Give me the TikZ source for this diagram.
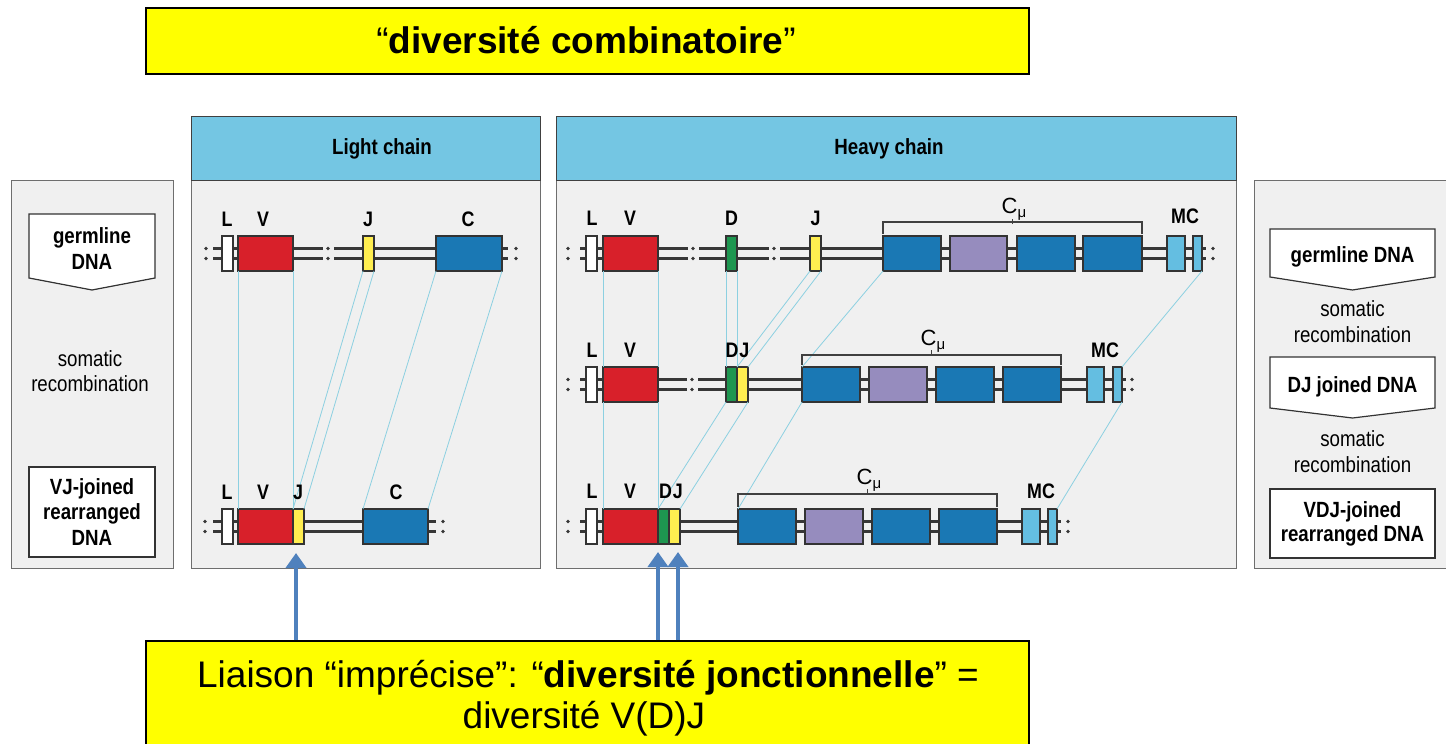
\documentclass[tikz,border=0pt]{standalone}
\usepackage{fontspec}
\setmainfont{Liberation Sans}
\usepackage{graphicx}
\usetikzlibrary{arrows.meta}
\definecolor{hdr}{RGB}{116,198,227}
\definecolor{panel}{RGB}{240,240,240}
\definecolor{pborder}{RGB}{110,110,110}
\definecolor{gred}{RGB}{216,32,42}
\definecolor{ggreen}{RGB}{30,150,80}
\definecolor{gyellow}{RGB}{255,238,80}
\definecolor{gblue}{RGB}{26,120,180}
\definecolor{gpurple}{RGB}{150,140,190}
\definecolor{gmc}{RGB}{100,190,225}
\definecolor{guide}{RGB}{140,208,225}
\definecolor{strandc}{RGB}{55,55,55}
\definecolor{arrblue}{RGB}{79,129,189}
\definecolor{ylw}{RGB}{255,255,0}
\newcommand{\cnd}[1]{\scalebox{0.85}[1]{#1}}
\tikzset{
 ybox/.style={draw=black, line width=1.5pt, fill=ylw, inner sep=0pt},
 hdrbox/.style={draw=black!75, line width=1.2pt, fill=hdr, inner sep=0pt},
 pnl/.style={draw=pborder, line width=1.2pt, fill=panel, inner sep=0pt},
 gene/.style={draw=black!80, line width=1.1pt, inner sep=0pt, outer sep=0pt},
 strand/.style={draw=strandc, line width=2.2pt},
 guideln/.style={draw=guide, line width=0.8pt},
 brack/.style={draw=black!75, line width=1.2pt},
 lbl/.style={font=\fontsize{21}{23}\selectfont\bfseries, inner sep=0pt, anchor=base},
 cmu/.style={font=\fontsize{22}{24}\selectfont, inner sep=0pt, anchor=base},
 ptxt/.style={font=\fontsize{22}{24}\selectfont, inner sep=0pt, anchor=base},
 bptxt/.style={font=\fontsize{22}{24}\selectfont\bfseries, inner sep=0pt, anchor=base},
 bigtxt/.style={font=\fontsize{37}{44}\selectfont, inner sep=0pt, anchor=base},
 arr/.style={draw=arrblue, line width=4pt, -{Triangle[width=20pt,length=15pt]}},
 wbox/.style={draw=black!80, line width=1.2pt, fill=white},
}
\newcommand{\gene}[6]{\node[gene, fill=#2, minimum width={#4-#3}, minimum height={#6-#5}, anchor=north west] (#1) at (#3,#5) {};}
\newcommand{\strands}[4]{%
 \coordinate (#1s) at (#2,#4); \coordinate (#1e) at (#3,#4);
 \draw[strand] ([yshift=5pt]#1s) -- ([yshift=5pt]#1e);
 \draw[strand] ([yshift=-5pt]#1s) -- ([yshift=-5pt]#1e);}
\newcommand{\brk}[2]{%
 \fill[panel] ({#1-5.5},{#2-9}) rectangle ({#1+5.5},{#2+9});
 \fill[strandc] (#1,{#2-5}) circle (1.9); \fill[strandc] (#1,{#2+5}) circle (1.9);}
\newcommand{\edots}[2]{%
 \fill[strandc] (#1,{#2-5}) circle (1.9); \fill[strandc] (#1,{#2+5}) circle (1.9);}
\newcommand{\cm}{C\raisebox{-4pt}{\fontsize{15}{15}\selectfont μ}}
\begin{document}
\begin{tikzpicture}[x=1pt,y=-1pt]
\useasboundingbox (0,0) rectangle (1446,744);
\fill[white] (0,0) rectangle (1446,744);

% top banner
\node[ybox, minimum width=883, minimum height=66, anchor=north west] (topbox) at (145,7) {};
\node[bigtxt] (toptxt) at (586,53) {“\textbf{diversité combinatoire}”};

% panels
\node[pnl, minimum width=162, minimum height=388, anchor=north west] (lpanel) at (11,180) {};
\node[pnl, minimum width=349, minimum height=388, anchor=north west] (lbody) at (191,180) {};
\node[hdrbox, minimum width=349, minimum height=64, anchor=north west] (lhdr) at (191,116) {};
\node[pnl, minimum width=680, minimum height=388, anchor=north west] (hbody) at (556,180) {};
\node[hdrbox, minimum width=680, minimum height=64, anchor=north west] (hhdr) at (556,116) {};
\node[pnl, minimum width=200, minimum height=388, anchor=north west] (rpanel) at (1254,180) {};

\node[bptxt] (lhtxt) at (382,154) {\cnd{Light chain}};
\node[bptxt] (hhtxt) at (889,154) {\cnd{Heavy chain}};

% ---------- light chain ----------
\strands{lr1}{213}{508}{253.5}
\brk{328}{253.5}
\edots{206}{253.5}\edots{516}{253.5}
\strands{lr2}{213}{436}{526.5}
\edots{205}{526.5}\edots{443}{526.5}

\gene{lL1}{white}{222}{233}{236}{271}
\gene{lV1}{gred}{238}{293}{236}{271}
\gene{lJ1}{gyellow}{363}{374}{236}{271}
\gene{lC1}{gblue}{436}{502}{236}{271}
\gene{lL2}{white}{222}{233}{509}{544}
\gene{lV2}{gred}{238}{293}{509}{544}
\gene{lJ2}{gyellow}{293}{304}{509}{544}
\gene{lC2}{gblue}{363}{428}{509}{544}

\draw[guideln] (lV1.south west) -- (lV2.north west);
\draw[guideln] (lV1.south east) -- (lV2.north east);
\draw[guideln] (lJ1.south west) -- (lJ2.north west);
\draw[guideln] (lJ1.south east) -- (lJ2.north east);
\draw[guideln] (lC1.south west) -- (lC2.north west);
\draw[guideln] (lC1.south east) -- (lC2.north east);

\node[lbl] (tlL1) at (227,226) {\cnd{L}};
\node[lbl] (tlV1) at (263,226) {\cnd{V}};
\node[lbl] (tlJ1) at (368,226) {\cnd{J}};
\node[lbl] (tlC1) at (468,226) {\cnd{C}};
\node[lbl] (tlL2) at (227,499) {\cnd{L}};
\node[lbl] (tlV2) at (263,499) {\cnd{V}};
\node[lbl] (tlJ2) at (298,499) {\cnd{J}};
\node[lbl] (tlC2) at (396,499) {\cnd{C}};

% ---------- heavy chain ----------
\strands{hr1}{580}{1206}{253.5}
\brk{693}{253.5}\brk{774}{253.5}
\edots{568}{253.5}\edots{1213}{253.5}
\strands{hr2}{580}{1126}{384.5}
\brk{692}{384.5}
\edots{568}{384.5}\edots{1132}{384.5}
\strands{hr3}{580}{1061}{526.5}
\edots{568}{526.5}\edots{1068}{526.5}

\gene{hL1}{white}{586}{597}{236}{271}
\gene{hV1}{gred}{603}{658}{236}{271}
\gene{hD1}{ggreen}{726}{737}{236}{271}
\gene{hJ1}{gyellow}{810}{821}{236}{271}
\gene{hC1a}{gblue}{883}{941}{236}{271}
\gene{hC1b}{gpurple}{950}{1007}{236}{271}
\gene{hC1c}{gblue}{1017}{1075}{236}{271}
\gene{hC1d}{gblue}{1083}{1142}{236}{271}
\gene{hM1a}{gmc}{1167}{1185}{236}{271}
\gene{hM1b}{gmc}{1193}{1202}{236}{271}

\gene{hL2}{white}{586}{597}{367}{402}
\gene{hV2}{gred}{603}{658}{367}{402}
\gene{hD2}{ggreen}{726}{737}{367}{402}
\gene{hJ2}{gyellow}{737}{748}{367}{402}
\gene{hC2a}{gblue}{802}{860}{367}{402}
\gene{hC2b}{gpurple}{869}{927}{367}{402}
\gene{hC2c}{gblue}{936}{994}{367}{402}
\gene{hC2d}{gblue}{1003}{1061}{367}{402}
\gene{hM2a}{gmc}{1087}{1104}{367}{402}
\gene{hM2b}{gmc}{1113}{1122}{367}{402}

\gene{hL3}{white}{586}{597}{509}{544}
\gene{hV3}{gred}{603}{658}{509}{544}
\gene{hD3}{ggreen}{658}{669}{509}{544}
\gene{hJ3}{gyellow}{669}{680}{509}{544}
\gene{hC3a}{gblue}{738}{796}{509}{544}
\gene{hC3b}{gpurple}{805}{863}{509}{544}
\gene{hC3c}{gblue}{872}{930}{509}{544}
\gene{hC3d}{gblue}{939}{997}{509}{544}
\gene{hM3a}{gmc}{1022}{1040}{509}{544}
\gene{hM3b}{gmc}{1048}{1057}{509}{544}

\draw[guideln] (hV1.south west) -- (hV2.north west);
\draw[guideln] (hV1.south east) -- (hV2.north east);
\draw[guideln] (hD1.south west) -- (hD2.north west);
\draw[guideln] (hD1.south east) -- (hD2.north east);
\draw[guideln] (hJ1.south west) -- (hJ2.north west);
\draw[guideln] (hJ1.south east) -- (hJ2.north east);
\draw[guideln] (hC1a.south west) -- (hC2a.north west);
\draw[guideln] (hM1b.south east) -- (hM2b.north east);
\draw[guideln] (hV2.south west) -- (hV3.north west);
\draw[guideln] (hV2.south east) -- (hV3.north east);
\draw[guideln] (hD2.south west) -- (hD3.north west);
\draw[guideln] (hJ2.south east) -- (hJ3.north east);
\draw[guideln] (hC2a.south west) -- (hC3a.north west);
\draw[guideln] (hM2b.south east) -- (hM3b.north east);

% brackets
\draw[brack] ([yshift=2pt]hC1a.north west) -- ++(0,-12) -| ([yshift=2pt]hC1d.north east);
\draw[brack] (1012.5,224) -- (1012.5,219);
\draw[brack] ([yshift=2pt]hC2a.north west) -- ++(0,-10) -| ([yshift=2pt]hC2d.north east);
\draw[brack] (931.5,355) -- (931.5,350);
\draw[brack] ([yshift=2pt]hC3a.north west) -- ++(0,-13) -| ([yshift=2pt]hC3d.north east);
\draw[brack] (867.5,494) -- (867.5,489);

\node[cmu] (cm1) at (1014,213) {\cm};
\node[cmu] (cm2) at (933,345) {\cm};
\node[cmu] (cm3) at (869,484) {\cm};

\node[lbl] (thL1) at (592,225) {\cnd{L}};
\node[lbl] (thV1) at (630,225) {\cnd{V}};
\node[lbl] (thD1) at (731.5,225) {\cnd{D}};
\node[lbl] (thJ1) at (815.5,225) {\cnd{J}};
\node[lbl] (thM1) at (1185,223) {\cnd{MC}};
\node[lbl] (thL2) at (592,357) {\cnd{L}};
\node[lbl] (thV2) at (630,357) {\cnd{V}};
\node[lbl] (thDJ2) at (737.5,357) {\cnd{D\hspace{1pt}J}};
\node[lbl] (thM2) at (1105,357) {\cnd{MC}};
\node[lbl] (thL3) at (592,498) {\cnd{L}};
\node[lbl] (thV3) at (630,498) {\cnd{V}};
\node[lbl] (thDJ3) at (671,498) {\cnd{D\hspace{1pt}J}};
\node[lbl] (thM3) at (1041,498) {\cnd{MC}};

% ---------- left panel ----------
\draw[wbox] (29,214) -- (155,214) -- (155,278) -- (92,290) -- (29,278) -- cycle;
\node[bptxt] (lg1) at (92,243) {\cnd{germline}};
\node[bptxt] (lg2) at (92,269) {\cnd{DNA}};
\node[ptxt] (ls1) at (90,366) {\cnd{somatic}};
\node[ptxt] (ls2) at (90,391) {\cnd{recombination}};
\draw[wbox] (29,467) rectangle (155,557);
\node[bptxt] (lv1) at (92,494) {\cnd{VJ-joined}};
\node[bptxt] (lv2) at (92,519) {\cnd{rearranged}};
\node[bptxt] (lv3) at (92,545) {\cnd{DNA}};

% ---------- right panel ----------
\draw[wbox] (1270,229) -- (1435,229) -- (1435,277) -- (1352.5,290) -- (1270,277) -- cycle;
\node[bptxt] (rg) at (1352.5,262) {\cnd{germline DNA}};
\node[ptxt] (rs1) at (1352.5,316) {\cnd{somatic}};
\node[ptxt] (rs2) at (1352.5,342) {\cnd{recombination}};
\draw[wbox] (1270,357) -- (1435,357) -- (1435,408) -- (1352.5,418) -- (1270,408) -- cycle;
\node[bptxt] (rdj) at (1352.5,392) {\cnd{DJ joined DNA}};
\node[ptxt] (rs3) at (1352.5,446) {\cnd{somatic}};
\node[ptxt] (rs4) at (1352.5,472) {\cnd{recombination}};
\draw[wbox] (1270,489) rectangle (1435,558);
\node[bptxt] (rv1) at (1352.5,517) {\cnd{VDJ-joined}};
\node[bptxt] (rv2) at (1352.5,541) {\cnd{rearranged DNA}};

% ---------- bottom banner ----------
\node[ybox, minimum width=883, minimum height=120, anchor=north west] (jbox) at (145,640) {};
\node[bigtxt] (jt1) at (588,687) {Liaison “imprécise”: “\textbf{diversité jonctionnelle}” =};
\node[bigtxt] (jt2) at (584,728) {diversité V(D)J};

\coordinate (a1) at (296,553);
\coordinate (a2) at (658,552);
\coordinate (a3) at (678,552);
\draw[arr] (a1 |- jbox.north) -- (a1);
\draw[arr] (a2 |- jbox.north) -- (a2);
\draw[arr] (a3 |- jbox.north) -- (a3);
\end{tikzpicture}
\end{document}
